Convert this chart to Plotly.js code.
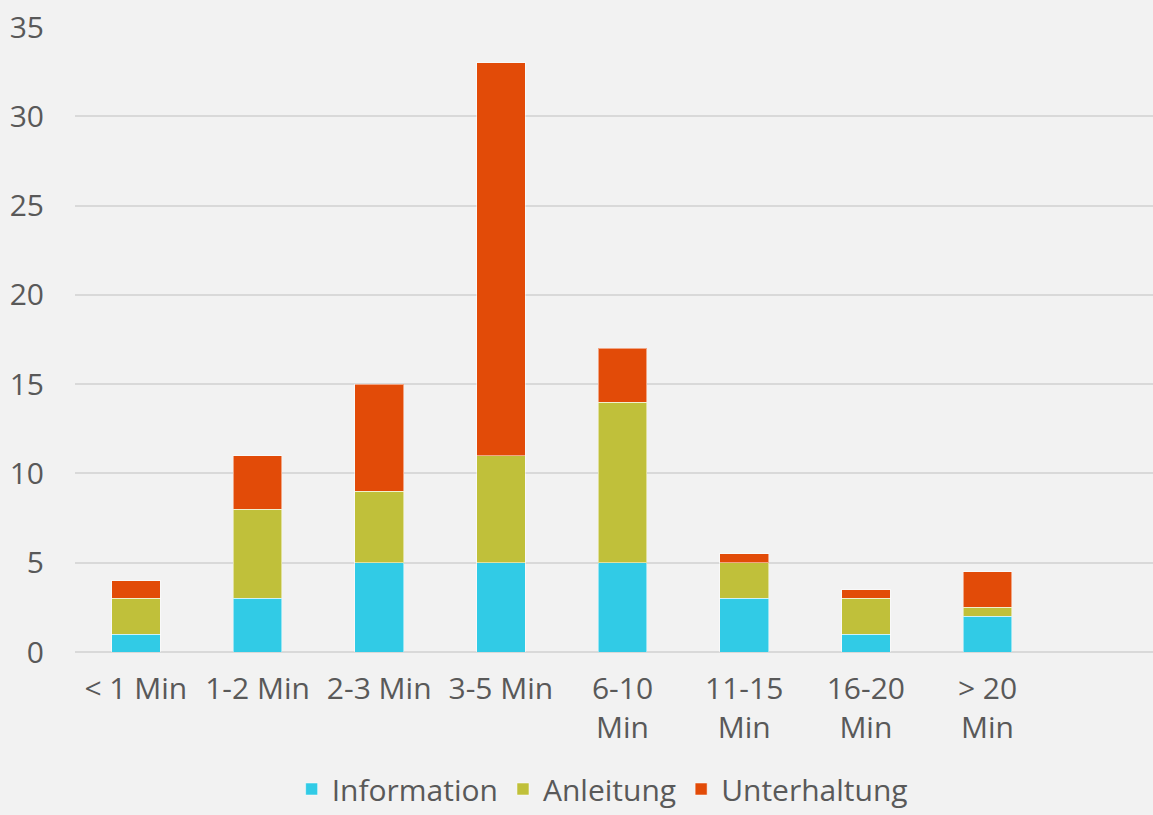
<!DOCTYPE html>
<html>
<head>
<meta charset="utf-8">
<script src="https://cdn.plot.ly/plotly-3.0.1.min.js"></script>
<style>
  html, body { margin: 0; padding: 0; background: #f2f2f2; }
  #chart { width: 1153px; height: 815px; }
</style>
</head>
<body>
<div id="chart"></div>
<script>
// Video length buckets and counts per content type
const categories = ['< 1 Min', '1-2 Min', '2-3 Min', '3-5 Min', '6-10<br>Min', '11-15<br>Min', '16-20<br>Min', '> 20<br>Min'];
const information = [1, 3, 5, 5, 5, 3, 1, 2];
const anleitung = [2, 5, 4, 6, 9, 2, 2, 0.5];
const unterhaltung = [1, 3, 6, 22, 3, 0.5, 0.5, 2];

const seriesNames = ['Information', 'Anleitung', 'Unterhaltung'];
const seriesColors = ['#31cbe6', '#c0c03a', '#e24b08'];

const xIdx = categories.map((_, i) => i);

const traces = [information, anleitung, unterhaltung].map((vals, k) => ({
  type: 'bar',
  name: seriesNames[k],
  x: xIdx,
  y: vals,
  width: 0.4,
  marker: { color: seriesColors[k], line: { color: 'rgba(255,255,255,0.5)', width: 1 } },
  hoverinfo: 'y+name'
}));

const layout = {
  width: 1153,
  height: 815,
  barmode: 'stack',
  paper_bgcolor: '#f2f2f2',
  plot_bgcolor: '#f2f2f2',
  margin: { l: 75, r: 0, t: 27, b: 163 },
  font: { family: 'Open Sans, Noto Sans, sans-serif', size: 30, color: '#595959' },
  xaxis: {
    tickmode: 'array',
    tickvals: xIdx,
    ticktext: categories,
    range: [-0.5, 8.36],
    showgrid: false,
    zeroline: false,
    showline: false,
    ticks: '',
    ticklabelstandoff: 16,
    tickfont: { size: 30, color: '#595959' },
    automargin: false
  },
  yaxis: {
    range: [0, 35],
    dtick: 5,
    showgrid: true,
    gridcolor: '#d9d9d9',
    gridwidth: 2,
    zeroline: true,
    zerolinecolor: '#d9d9d9',
    zerolinewidth: 2,
    showline: false,
    ticks: '',
    ticklabelstandoff: 30,
    tickfont: { size: 30, color: '#595959' },
    automargin: false
  },
  legend: {
    orientation: 'h',
    x: 0.489,
    xanchor: 'center',
    xref: 'paper',
    y: -0.009,
    yref: 'container',
    yanchor: 'bottom',
    font: { size: 30, color: '#595959' },
    traceorder: 'normal',
    itemwidth: 30
  },
  showlegend: true
};

Plotly.newPlot('chart', traces, layout, { displayModeBar: false, staticPlot: true });
</script>
</body>
</html>
